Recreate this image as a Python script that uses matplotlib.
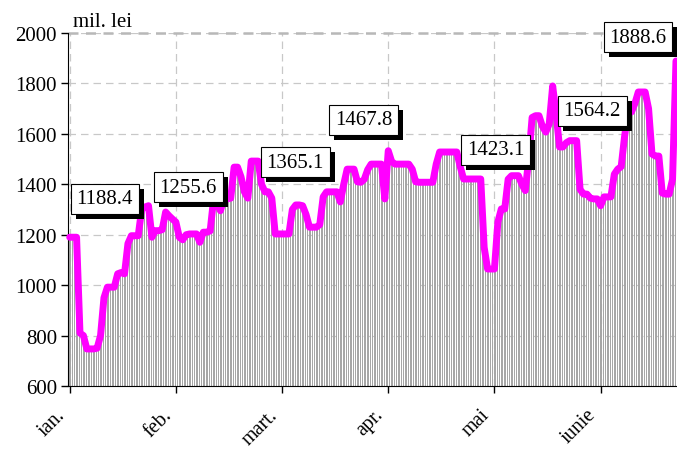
import matplotlib
matplotlib.use("Agg")
import matplotlib.pyplot as plt
import matplotlib.transforms as mtransforms
from matplotlib.patches import Rectangle

# daily values, mil. lei
values = [
    1190, 1190, 1190, 810, 800, 747, 747, 747, 750, 800,
    950, 992, 992, 992, 1045, 1050, 1045, 1165, 1196, 1196,
    1196, 1300, 1310, 1315, 1190, 1216, 1216, 1220, 1290, 1275,
    1262, 1250, 1190, 1180, 1200, 1203, 1203, 1203, 1170, 1210,
    1210, 1215, 1340, 1325, 1295, 1342, 1342, 1345, 1468, 1468,
    1430, 1370, 1345, 1492, 1492, 1492, 1400, 1370, 1370, 1345,
    1203, 1203, 1203, 1203, 1203, 1300, 1318, 1318, 1315, 1280,
    1230, 1230, 1230, 1240, 1350, 1370, 1370, 1370, 1370, 1330,
    1400, 1460, 1460, 1460, 1410, 1408, 1420, 1458, 1480, 1480,
    1480, 1480, 1342, 1533, 1490, 1480, 1480, 1480, 1480, 1480,
    1460, 1410, 1408, 1408, 1408, 1408, 1408, 1480, 1528, 1528,
    1528, 1528, 1528, 1528, 1470, 1421, 1421, 1421, 1421, 1421,
    1421, 1150, 1064, 1064, 1064, 1250, 1302, 1302, 1420, 1434,
    1434, 1434, 1400, 1375, 1500, 1665, 1672, 1672, 1630, 1607,
    1640, 1790, 1680, 1548, 1548, 1565, 1573, 1573, 1573, 1380,
    1361, 1361, 1345, 1342, 1342, 1315, 1350, 1350, 1350, 1440,
    1460, 1470, 1590, 1687, 1687, 1720, 1766, 1766, 1766, 1700,
    1520, 1512, 1512, 1365, 1361, 1361, 1420, 1889,
]
month_labels = ["ian.", "feb.", "mart.", "apr.", "mai", "iunie"]
month_ticks = [0, 31, 62, 93, 124, 155]

# labelled values and where their boxes sit (day index, value level)
label_texts = ["1188.4", "1255.6", "1365.1", "1467.8", "1423.1", "1564.2", "1888.6"]
label_x = [10.2, 34.6, 65.8, 85.9, 124.3, 152.5, 165.9]
label_y = [1342, 1389, 1488, 1655, 1536, 1691, 1984]

plt.rcParams['font.family'] = ['Liberation Serif', 'DejaVu Serif']

fig = plt.figure(figsize=(6.77, 4.52), dpi=100)
ax = fig.add_axes([68 / 677, 65 / 452, 609 / 677, 353 / 452])

days = list(range(len(values)))
ax.bar(days, [v - 600 for v in values], bottom=600, width=0.45,
       facecolor='white', edgecolor='#a4a4a4', linewidth=0.7, zorder=2)
ax.plot(days, values, color='#FF00FF', linewidth=5.0,
        solid_joinstyle='round', solid_capstyle='round', zorder=3, clip_on=False)

ax.set_xlim(-0.5, 177.3)
ax.set_ylim(600, 2000)
ax.set_yticks(range(600, 2001, 200))
ax.set_xticks(month_ticks)
ax.set_xticklabels([])
ax.tick_params(axis='y', labelsize=15, direction='out', length=5, width=1, pad=3)
ax.tick_params(axis='x', direction='out', length=5, width=1)

# month names, rotated, hanging below-left of each tick
lab_off = mtransforms.ScaledTranslation(-14 / 100, -19 / 100, fig.dpi_scale_trans)
for m, lab in zip(month_ticks, month_labels):
    ax.text(m, 0, lab, fontsize=14.5, rotation=45, ha='right', va='top',
            rotation_mode='anchor', transform=ax.get_xaxis_transform() + lab_off)

ax.grid(True, color='#c8c8c8', linestyle=(0, (6, 4)), linewidth=0.9, zorder=0)
ax.set_axisbelow(True)
for s in ['top', 'right']:
    ax.spines[s].set_visible(False)
ax.axhline(2000, color='#b8b8b8', linestyle=(0, (4, 3)), linewidth=1.8, zorder=1, clip_on=False)

fig.text(73 / 677, 1 - 27 / 452, "mil. lei", fontsize=15, ha='left', va='baseline')

# boxed labels with a black drop shadow
texts = []
for t, x, y in zip(label_texts, label_x, label_y):
    texts.append(ax.text(x, y, t, fontsize=15, ha='center', va='center', color='black',
                         zorder=7, clip_on=False,
                         bbox=dict(boxstyle='square,pad=0.28', facecolor='white',
                                   edgecolor='black', linewidth=0.8)))
fig.canvas.draw()
for txt in texts:
    bb = txt.get_bbox_patch().get_window_extent()
    shadow = Rectangle((bb.x0 + 5, bb.y0 - 5), bb.width, bb.height,
                       transform=mtransforms.IdentityTransform(), facecolor='black',
                       edgecolor='none', zorder=5, clip_on=False)
    ax.add_artist(shadow)

fig.savefig("out.png", dpi=100)
